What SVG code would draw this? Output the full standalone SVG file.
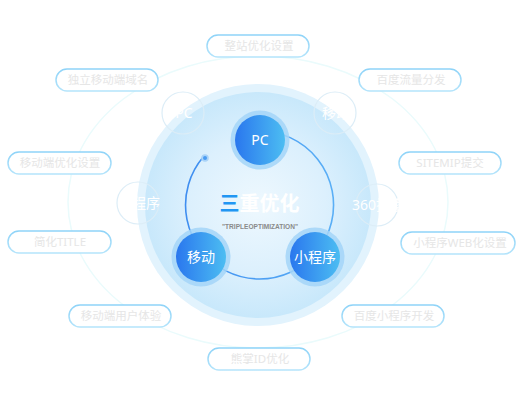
<svg xmlns="http://www.w3.org/2000/svg" width="520" height="400" viewBox="0 0 520 400">
<defs>
<radialGradient id="bgIn" cx="50%" cy="50%" r="50%">
<stop offset="0" stop-color="#eef8fe"/>
<stop offset="0.6" stop-color="#dcf0fd"/>
<stop offset="1" stop-color="#c8e8fb"/>
</radialGradient>
<linearGradient id="nodeG" x1="0" y1="0" x2="1" y2="0">
<stop offset="0" stop-color="#2a77ee"/>
<stop offset="1" stop-color="#4cbdf2"/>
</linearGradient>
<linearGradient id="arcG" x1="0" y1="0" x2="1" y2="0">
<stop offset="0" stop-color="#3f8ef0"/>
<stop offset="1" stop-color="#5aaff6"/>
</linearGradient>
<linearGradient id="pillG" x1="0" y1="0" x2="0" y2="1">
<stop offset="0" stop-color="#8ed3f8"/>
<stop offset="1" stop-color="#b4e4fb"/>
</linearGradient>
</defs>
<style>
.pill rect{fill:#ffffff;stroke:url(#pillG);stroke-width:1.5}
.pill text{font-family:'Noto Sans','Noto Sans CJK SC',sans-serif;font-size:11.5px;fill:#e6e6e6;text-anchor:middle}
.ghost circle{fill:none;stroke:#dcedf7;stroke-width:1.2}
.ghost text{font-family:'Noto Sans','Noto Sans CJK SC',sans-serif;font-size:14px;fill:#ffffff;text-anchor:middle}
.node .halo{fill:#a3d5f8;opacity:0.85}
.node .core{fill:url(#nodeG)}
.node text{font-family:'Noto Sans','Noto Sans CJK SC',sans-serif;font-size:14px;fill:#ffffff;text-anchor:middle}
</style>
<rect width="520" height="400" fill="#ffffff"/>
<ellipse cx="258" cy="202" rx="190" ry="146" fill="none" stroke="#eafbfc" stroke-width="1.5"/>
<g id="background">
<circle cx="258" cy="205" r="121" fill="#e2f3fd"/>
<circle cx="258" cy="205" r="113" fill="url(#bgIn)"/>
</g>
<g id="ghost-pc" class="ghost"><circle cx="183" cy="113" r="21"/><text x="184" y="118">PC</text></g>
<g id="ghost-mobile" class="ghost"><circle cx="335" cy="113" r="21"/><text x="336" y="118">移动</text></g>
<g id="ghost-mini" class="ghost"><circle cx="138" cy="203" r="21"/><text x="139" y="208">小程序</text></g>
<g id="ghost-360" class="ghost"><circle cx="377" cy="205" r="21"/><text x="378" y="210">360搜索</text></g>
<g id="connectors">
<path d="M 203.4 156.8 A 74 74 0 1 0 259.5 131" fill="none" stroke="url(#arcG)" stroke-width="1.6"/>
<circle cx="205" cy="158" r="3.8" fill="#a9d3f8"/>
<circle cx="205" cy="158" r="2" fill="#4a9cf2"/>
</g>
<g id="title">
<text x="259.5" y="211" text-anchor="middle" font-family="'Noto Sans CJK SC',sans-serif" font-size="20" font-weight="bold" fill="#ffffff"><tspan fill="#2196f3">三</tspan>重优化</text>
<text x="260" y="229" text-anchor="middle" font-family="'Liberation Sans',sans-serif" font-size="7" font-weight="bold" fill="#8a8a8a" textLength="76" lengthAdjust="spacingAndGlyphs">"TRIPLEOPTIMIZATION"</text>
</g>
<g id="node-pc" class="node"><circle class="halo" cx="260" cy="140" r="29.5"/><circle class="core" cx="260" cy="140" r="25"/><text x="260" y="145">PC</text></g>
<g id="node-mobile" class="node"><circle class="halo" cx="201" cy="257" r="29.5"/><circle class="core" cx="201" cy="257" r="25"/><text x="201" y="262">移动</text></g>
<g id="node-mini" class="node"><circle class="halo" cx="315" cy="257" r="29.5"/><circle class="core" cx="315" cy="257" r="25"/><text x="315" y="262">小程序</text></g>
<g id="pill-1" class="pill"><rect x="207" y="35" width="102" height="22" rx="11"/><text x="259" y="50">整站优化设置</text></g>
<g id="pill-2" class="pill"><rect x="56" y="69" width="102" height="22" rx="11"/><text x="108" y="84">独立移动端域名</text></g>
<g id="pill-3" class="pill"><rect x="359" y="69" width="102" height="22" rx="11"/><text x="411" y="84">百度流量分发</text></g>
<g id="pill-4" class="pill"><rect x="8" y="152" width="103" height="22" rx="11"/><text x="60" y="167">移动端优化设置</text></g>
<g id="pill-5" class="pill"><rect x="399" y="152" width="102" height="22" rx="11"/><text x="450" y="167">SITEMIP提交</text></g>
<g id="pill-6" class="pill"><rect x="8" y="231" width="103" height="22" rx="11"/><text x="60" y="246">简化TITLE</text></g>
<g id="pill-7" class="pill"><rect x="401" y="232" width="114" height="22" rx="11"/><text x="460" y="247">小程序WEB化设置</text></g>
<g id="pill-8" class="pill"><rect x="69" y="305" width="102" height="22" rx="11"/><text x="121" y="320">移动端用户体验</text></g>
<g id="pill-9" class="pill"><rect x="342" y="305" width="102" height="22" rx="11"/><text x="394" y="320">百度小程序开发</text></g>
<g id="pill-10" class="pill"><rect x="208" y="348" width="102" height="22" rx="11"/><text x="260" y="363">熊掌ID优化</text></g>
</svg>
